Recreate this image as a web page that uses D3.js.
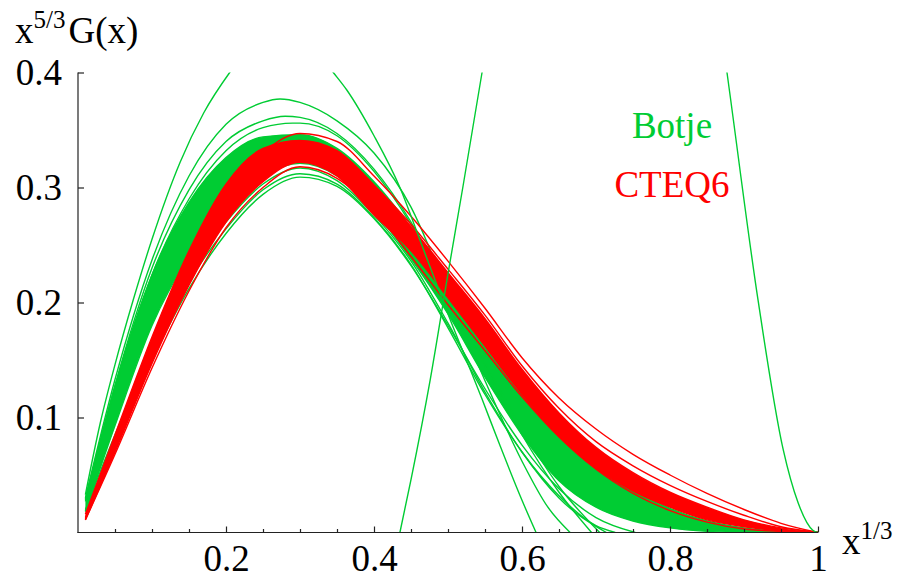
<!DOCTYPE html>
<html><head><meta charset="utf-8">
<script src="https://cdn.jsdelivr.net/npm/d3@7"></script>
<style>
body{margin:0;background:#fff}
svg{display:block}
text{font-family:"Liberation Serif","Times New Roman",serif}
</style>
</head><body>
<svg id="c" width="902" height="581"></svg>
<script>
// ---------------- data ----------------
const xGrid = [0.01,0.05,0.1,0.15,0.2,0.25,0.3,0.35,0.4,0.45,0.5,0.55,0.6,0.65,0.7,0.75,0.8,0.85,0.9,0.95,1.0];

// dense Botje (green) band: upper and lower envelope of the bundle
const botjeUpper = [0.027,0.127,0.224,0.287,0.326,0.344,0.346,0.334,0.305,0.265,0.218,0.165,0.12,0.085,0.058,0.037,0.021,0.010,0.004,0.001,0];
const botjeLower = [0.018,0.093,0.18,0.24,0.283,0.31,0.321,0.31,0.279,0.238,0.19,0.135,0.085,0.045,0.022,0.01,0.004,0.001,0,0,0];

// dense CTEQ6 (red) band
const cteqUpper = [0.016,0.085,0.17,0.245,0.303,0.334,0.341,0.332,0.302,0.266,0.226,0.186,0.142,0.104,0.074,0.052,0.035,0.022,0.011,0.004,0];
const cteqLower = [0.011,0.07,0.147,0.215,0.27,0.305,0.322,0.31,0.276,0.245,0.204,0.162,0.12,0.084,0.056,0.036,0.022,0.011,0.005,0.0015,0];

// individual CTEQ6 members standing out of the band
const cteqHigh  = [0.012,0.072,0.15,0.225,0.29,0.33,0.347,0.34,0.31,0.275,0.236,0.195,0.152,0.117,0.09,0.068,0.05,0.034,0.02,0.008,0];
const cteqHigh2 = [0.013,0.078,0.16,0.235,0.295,0.328,0.338,0.33,0.302,0.268,0.229,0.189,0.145,0.108,0.079,0.058,0.041,0.027,0.015,0.005,0];
const cteqLow   = [0.011,0.068,0.143,0.21,0.265,0.3,0.318,0.308,0.28,0.24,0.198,0.158,0.118,0.083,0.055,0.034,0.019,0.009,0.003,0.001,0];

// individual Botje members standing out of the band, [x, value]
const botjeTall = [[0.01,0.033],[0.03,0.095],[0.05,0.146],[0.075,0.203],[0.1,0.255],[0.138,0.322],[0.17,0.365],[0.205,0.40],[0.25,0.435],[0.275,0.442],[0.3,0.436],[0.345,0.40],[0.363,0.385],[0.4,0.345],[0.435,0.30],[0.464,0.251],[0.5,0.19],[0.546,0.116],[0.57,0.076],[0.6,0.028],[0.619,0]];
const botjeHi1 = [[0.01,0.03],[0.05,0.133],[0.1,0.237],[0.15,0.31],[0.2,0.355],[0.25,0.374],[0.273,0.377],[0.3,0.374],[0.35,0.358],[0.4,0.33],[0.45,0.283],[0.5,0.208],[0.55,0.132],[0.6,0.062],[0.635,0.022],[0.665,0]];
const botjeHi2 = [[0.01,0.029],[0.05,0.128],[0.1,0.23],[0.15,0.298],[0.2,0.34],[0.25,0.358],[0.28,0.362],[0.3,0.361],[0.35,0.347],[0.4,0.316],[0.45,0.27],[0.5,0.21],[0.55,0.145],[0.6,0.085],[0.65,0.035],[0.694,0]];
const botjeHi3 = [[0.01,0.028],[0.05,0.124],[0.1,0.224],[0.15,0.29],[0.2,0.332],[0.25,0.352],[0.29,0.356],[0.3,0.356],[0.35,0.345],[0.4,0.314],[0.45,0.268],[0.5,0.21],[0.55,0.148],[0.6,0.09],[0.65,0.04],[0.705,0]];
const botjeLow1 = [[0.01,0.02],[0.05,0.085],[0.1,0.16],[0.15,0.225],[0.2,0.27],[0.25,0.303],[0.3,0.317],[0.35,0.306],[0.4,0.276],[0.45,0.236],[0.5,0.182],[0.55,0.122],[0.6,0.07],[0.65,0.03],[0.714,0]];
const botjeLow2 = [[0.01,0.019],[0.05,0.08],[0.1,0.155],[0.15,0.218],[0.2,0.264],[0.25,0.298],[0.3,0.312],[0.35,0.303],[0.4,0.274],[0.45,0.233],[0.5,0.178],[0.55,0.12],[0.6,0.07],[0.65,0.032],[0.7,0.006],[0.726,0]];
const botjeLow3 = [[0.01,0.019],[0.05,0.078],[0.1,0.15],[0.15,0.212],[0.2,0.26],[0.25,0.294],[0.3,0.309],[0.35,0.301],[0.4,0.273],[0.45,0.232],[0.5,0.18],[0.55,0.125],[0.6,0.076],[0.65,0.038],[0.7,0.013],[0.753,0]];
const botjeOdd = [[0.435,0],[0.45,0.046],[0.476,0.133],[0.5,0.225],[0.52,0.30],[0.546,0.40],[0.6,0.6],[0.7,0.8],[0.8,0.75],[0.877,0.4],[0.919,0.202],[0.953,0.072],[0.973,0.026],[0.993,0.002],[1.0,0]];

const xMajor = [0.2,0.4,0.6,0.8,1];
const xMinor = [0.05,0.1,0.15,0.25,0.3,0.35,0.45,0.5,0.55,0.65,0.7,0.75,0.85,0.9,0.95];
const yMajor = [0.1,0.2,0.3,0.4];
const legendNames = ["Botje","CTEQ6"];

// ---------------- drawing ----------------
const GREEN = "#00cc33", RED = "#ff0000";
const FS = 37;
const svg = d3.select("#c");
const x = d3.scaleLinear().domain([0,1]).range([78,818]);
const y = d3.scaleLinear().domain([0,0.4]).range([532.5,72.5]);

svg.append("defs").append("clipPath").attr("id","clip")
  .append("rect").attr("x",78).attr("y",72.5).attr("width",742).attr("height",460);

const plot = svg.append("g").attr("clip-path","url(#clip)");
const line = d3.line().x(d=>x(d[0])).y(d=>y(d[1])).curve(d3.curveMonotoneX);
const area = d3.area().x(d=>x(d[0])).y0(d=>y(d[1])).y1(d=>y(d[2])).curve(d3.curveMonotoneX);

function band(lo, hi, color){
  const pts = xGrid.map((v,i)=>[v, lo[i], hi[i]]);
  plot.append("path").attr("d", area(pts)).attr("fill", color).attr("stroke","none");
  [lo,hi].forEach(arr=>{
    plot.append("path").attr("d", line(xGrid.map((v,i)=>[v,arr[i]])))
      .attr("fill","none").attr("stroke",color).attr("stroke-width",1.4);
  });
}
function curve(pts, color){
  plot.append("path").attr("d", line(pts)).attr("fill","none")
    .attr("stroke",color).attr("stroke-width",1.4).attr("stroke-linejoin","round");
}
const onGrid = arr => xGrid.map((v,i)=>[v,arr[i]]);

band(botjeLower, botjeUpper, GREEN);
[botjeHi1,botjeHi2,botjeHi3,botjeLow1,botjeLow2,botjeLow3].forEach(c=>curve(c,GREEN));
band(cteqLower, cteqUpper, RED);
[cteqHigh,cteqHigh2,cteqLow].forEach(c=>curve(onGrid(c),RED));
curve(botjeTall, GREEN);
curve(botjeOdd, GREEN);

// axes
const AX = "#222";
const fmt = d => d===1 ? "1" : d3.format(".1f")(d);
const gx = svg.append("g").attr("transform","translate(0,532.5)")
  .call(d3.axisBottom(x).tickValues(xMajor).tickSize(-6).tickSizeOuter(0).tickPadding(12).tickFormat(fmt));
const gxm = svg.append("g").attr("transform","translate(0,532.5)")
  .call(d3.axisBottom(x).tickValues(xMinor).tickSize(-3.5).tickSizeOuter(0).tickFormat(""));
gxm.select(".domain").remove();
const gy = svg.append("g").attr("transform","translate(78,0)")
  .call(d3.axisLeft(y).tickValues(yMajor).tickSize(-6).tickSizeOuter(0).tickPadding(16).tickFormat(fmt));
[gx,gxm,gy].forEach(g=>{
  g.selectAll("path,line").attr("stroke",AX).attr("stroke-width",1.2);
  g.selectAll("text").attr("font-family","Liberation Serif, Times New Roman, serif").attr("font-size",FS).attr("fill","#000");
});
gx.select(".domain").attr("d","M77.5,0H818");
gy.select(".domain").attr("d","M0,72.5V533");

// axis titles
const t1 = svg.append("text").attr("x",15).attr("y",43).attr("font-size",FS).attr("fill","#000");
t1.append("tspan").text("x");
t1.append("tspan").attr("font-size",25).attr("dy",-15).text("5/3");
t1.append("tspan").attr("dy",15).attr("dx",3).text("G(x)");

const t2 = svg.append("text").attr("x",842).attr("y",554).attr("font-size",FS).attr("fill","#000");
t2.append("tspan").text("x");
t2.append("tspan").attr("font-size",25).attr("dy",-15).text("1/3");

// legend
svg.append("text").attr("x",672).attr("y",138).attr("text-anchor","middle").attr("font-size",FS).attr("fill",GREEN).text(legendNames[0]);
svg.append("text").attr("x",672).attr("y",197).attr("text-anchor","middle").attr("font-size",FS).attr("fill",RED).text(legendNames[1]);
</script>
</body></html>
